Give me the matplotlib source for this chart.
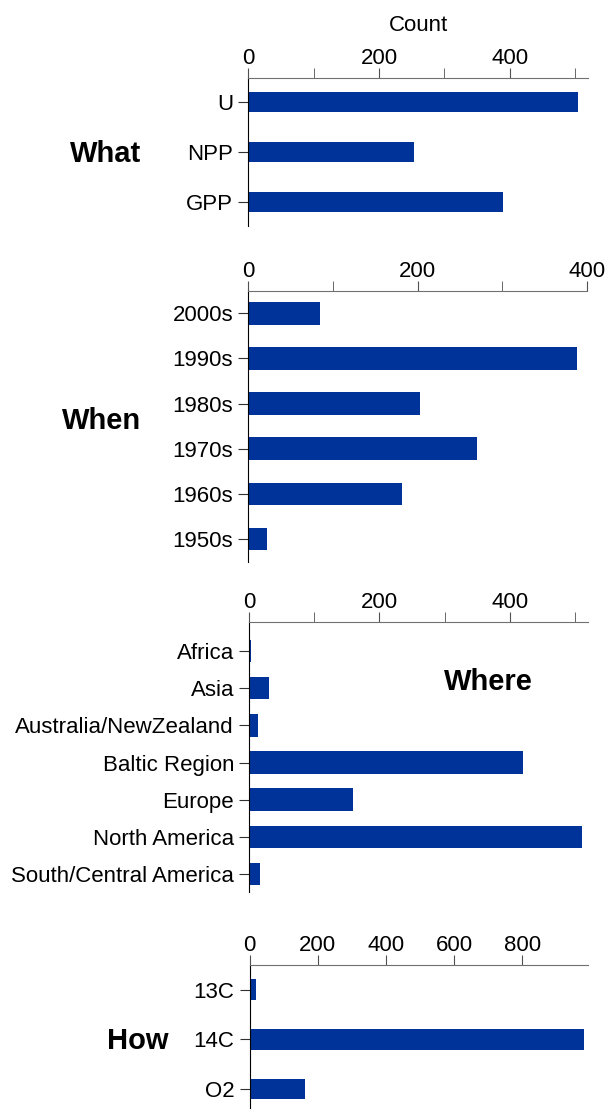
import numpy as np
import matplotlib.pyplot as plt

plt.rcParams['font.family'] = ['Liberation Sans', 'DejaVu Sans']

BAR_COLOR = '#003399'

what_labels = ['U', 'NPP', 'GPP']
what_counts = [504, 254, 389]

when_labels = ['2000s', '1990s', '1980s', '1970s', '1960s', '1950s']
when_counts = [84, 388, 203, 270, 181, 22]

where_labels = ['Africa', 'Asia', 'Australia/NewZealand', 'Baltic Region',
                'Europe', 'North America', 'South/Central America']
where_counts = [2, 31, 14, 421, 159, 511, 16]

how_labels = ['13C', '14C', 'O2']
how_counts = [18, 979, 161]


def panel(fig, rect, labels, counts, xmax, major, minor, ylim, bar_h):
    ax = fig.add_axes(rect)
    y = np.arange(len(labels))
    ax.barh(y, counts, height=bar_h, color=BAR_COLOR)
    ax.set_yticks(y)
    ax.set_yticklabels(labels)
    ax.set_ylim(*ylim)
    ax.set_xlim(0, xmax)
    ax.set_xticks(major)
    ax.set_xticks(minor, minor=True)
    ax.xaxis.tick_top()
    ax.spines['right'].set_visible(False)
    ax.spines['bottom'].set_visible(False)
    ax.spines['top'].set_color('#707070')
    ax.spines['left'].set_color('black')
    ax.tick_params(axis='x', which='both', direction='out', length=7,
                   color='#505050', labelsize=16, pad=-0.5)
    ax.tick_params(axis='y', length=7, color='#303030', labelsize=16, pad=4)
    return ax


fig = plt.figure(figsize=(6.08, 11.09), dpi=100)

ax1 = panel(fig, [0.4087, 0.7962, 0.5586, 0.1337], what_labels, what_counts,
            520, [0, 200, 400], [100, 300, 500], (2.48, -0.48), 0.4)
ax1.set_xlabel('Count', fontsize=16, labelpad=12)
ax1.xaxis.set_label_position('top')
fig.text(106 / 608, 1 - 154 / 1109, 'What', fontsize=21, fontweight='bold',
         ha='center', va='center')

ax2 = panel(fig, [0.4087, 0.4935, 0.5568, 0.2444], when_labels, when_counts,
            400, [0, 200, 400], [100, 300], (5.5, -0.5), 0.5)
fig.text(102 / 608, 1 - 421 / 1109, 'When', fontsize=21, fontweight='bold',
         ha='center', va='center')

ax3 = panel(fig, [0.41, 0.196, 0.5566, 0.2432], where_labels, where_counts,
            520, [0, 200, 400], [100, 300, 500], (6.47, -0.78), 0.61)
fig.text(488 / 608, 1 - 682 / 1109, 'Where', fontsize=21, fontweight='bold',
         ha='center', va='center')

ax4 = panel(fig, [0.4107, 0.001, 0.5569, 0.1289], how_labels, how_counts,
            993, [0, 200, 400, 600, 800], [], (2.38, -0.5), 0.42)
fig.text(138 / 608, 1 - 1041 / 1109, 'How', fontsize=21, fontweight='bold',
         ha='center', va='center')

fig.savefig('out.png', dpi=100)
